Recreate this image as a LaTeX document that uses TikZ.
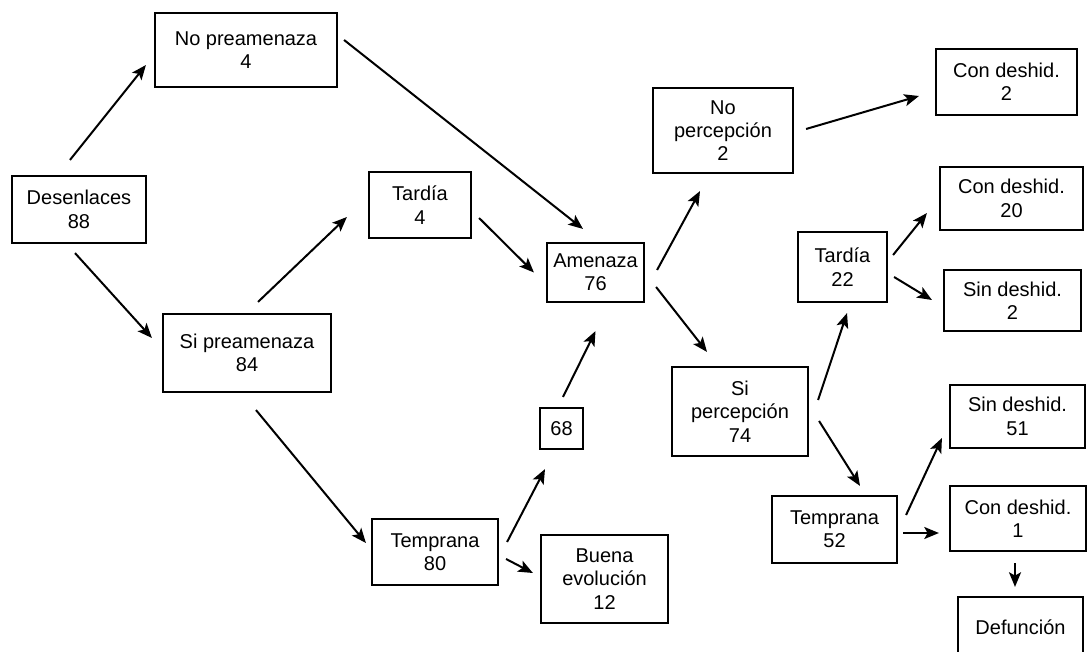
\documentclass[tikz,border=0pt]{standalone}
\usepackage{fontspec}
\setmainfont{Liberation Sans}
\usetikzlibrary{arrows.meta}
\begin{document}
\begin{tikzpicture}[x=0.75pt,y=-0.75pt,
  bx/.style 2 args={draw=black, line width=1.6pt, inner sep=0pt, align=center,
    minimum width=#1*0.75pt, minimum height=#2*0.75pt,
    font=\fontsize{15}{17.5}\selectfont},
  arr/.style={line width=1.5pt, -{Stealth[length=11pt,width=9pt,inset=2.5pt]}}]
\useasboundingbox (0,0) rectangle (1087,652);
\clip (0,0) rectangle (1087,652);
\fill[white] (0,0) rectangle (1087,652);
% nodes
\node[bx={134}{67}] (des) at (79,209.5) {Desenlaces\\88};
\node[bx={182}{74}] (nopre) at (246,50) {No preamenaza\\4};
\node[bx={168}{78}] (sipre) at (247,353) {Si preamenaza\\84};
\node[bx={102}{66}] (tard4) at (420,205) {Tardía\\4};
\node[bx={97}{59}] (amen) at (595.5,272.5) {Amenaza\\76};
\node[bx={126}{66}] (t80) at (435,552) {Temprana\\80};
\node[bx={43}{41}] (n68) at (561.5,428.5) {68};
\node[bx={127}{88}] (buena) at (604.5,579) {Buena\\evolución\\12};
\node[bx={140}{85}] (noperc) at (723,130.5) {No\\percepción\\2};
\node[bx={136}{89}] (siperc) at (740,411.5) {Si\\percepción\\74};
\node[bx={141}{66}] (cd2) at (1006.5,82) {Con deshid.\\2};
\node[bx={143}{63}] (cd20) at (1011.5,198.5) {Con deshid.\\20};
\node[bx={89}{70}] (t22) at (842.5,267) {Tardía\\22};
\node[bx={137}{61}] (sd2) at (1012.5,300.5) {Sin deshid.\\2};
\node[bx={125}{67}] (t52) at (834.5,529.5) {Temprana\\52};
\node[bx={135}{63}] (sd51) at (1017.5,416.5) {Sin deshid.\\51};
\node[bx={136}{65}] (cd1) at (1018,518.5) {Con deshid.\\1};
\node[bx={125}{60}] (def) at (1020.5,627) {Defunción};
% connectors
\draw[arr] ([shift={(-9,-15)}]des.north) -- ([shift={(-8,15)}]nopre.west);
\draw[arr] ([shift={(-4,9)}]des.south) -- ([shift={(-10,-15)}]sipre.west);
\draw[arr] ([shift={(6,-10)}]nopre.east) -- ([shift={(-12.5,-13)}]amen.north);
\draw[arr] ([shift={(11,-11)}]sipre.north) -- ([shift={(-21,12)}]tard4.west);
\draw[arr] ([shift={(9,17)}]sipre.south) -- ([shift={(-5,-9)}]t80.west);
\draw[arr] ([shift={(7,13)}]tard4.east) -- ([shift={(-12,0)}]amen.west);
\draw[arr] ([shift={(8,-10)}]t80.east) -- ([shift={(-16.5,19)}]n68.south);
\draw[arr] ([shift={(7,7)}]t80.east) -- ([shift={(-7,-6)}]buena.west);
\draw[arr] ([shift={(1.5,-10)}]n68.north) -- ([shift={(0,28)}]amen.south);
\draw[arr] ([shift={(12,-2.5)}]amen.east) -- ([shift={(-23,17)}]noperc.south);
\draw[arr] ([shift={(11,14.5)}]amen.east) -- ([shift={(-33,-14)}]siperc.north);
\draw[arr] ([shift={(12,-1.5)}]noperc.east) -- ([shift={(-16,14)}]cd2.west);
\draw[arr] ([shift={(9,-11.5)}]siperc.east) -- ([shift={(4.5,10)}]t22.south);
\draw[arr] ([shift={(10,9.5)}]siperc.east) -- ([shift={(25.5,-9)}]t52.north);
\draw[arr] ([shift={(5,-12)}]t22.east) -- ([shift={(-12,14.5)}]cd20.west);
\draw[arr] ([shift={(6,10)}]t22.east) -- ([shift={(-11,-0.5)}]sd2.west);
\draw[arr] ([shift={(8,-14.5)}]t52.east) -- ([shift={(-7,21.5)}]sd51.west);
\draw[arr] ([shift={(5,3.5)}]t52.east) -- ([shift={(-10,14.5)}]cd1.west);
\draw[arr] ([shift={(-3,11)}]cd1.south) -- ([shift={(-5.5,-9)}]def.north);
\end{tikzpicture}
\end{document}
